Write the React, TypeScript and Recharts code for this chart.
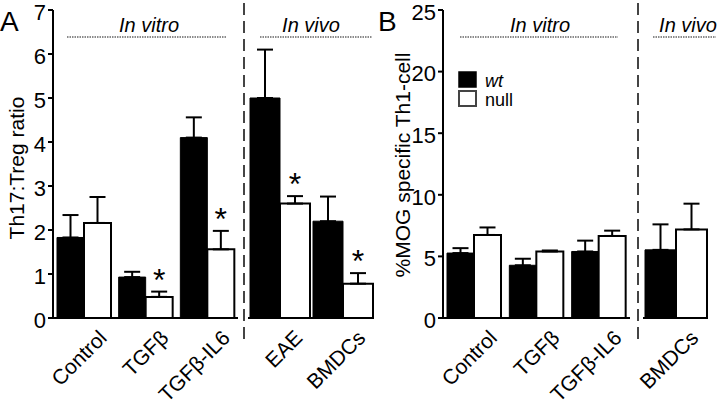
import React from 'react';
import { BarChart, Bar, XAxis, YAxis, ErrorBar, LabelList } from 'recharts';

// Panel A – Th17:Treg ratio
const vitroCats = ['Control', 'TGFβ', 'TGFβ-IL6'];
const aVitroWt = [1.83, 0.93, 4.1];
const aVitroWtErr = [0.51, 0.12, 0.46];
const aVitroNull = [2.16, 0.48, 1.56];
const aVitroNullErr = [0.59, 0.12, 0.42];
const aVitroSig = [false, true, true];

const aVivoCats = ['EAE', 'BMDCs'];
const aVivoWt = [5.0, 2.2];
const aVivoWtErr = [1.1, 0.56];
const aVivoNull = [2.6, 0.78];
const aVivoNullErr = [0.17, 0.24];
const aVivoSig = [true, true];

// Panel B – % MOG specific Th1 cells
const bVitroWt = [5.27, 4.28, 5.4];
const bVitroWtErr = [0.4, 0.53, 0.88];
const bVitroNull = [6.74, 5.4, 6.66];
const bVitroNullErr = [0.61, 0.08, 0.43];

const bVivoCats = ['BMDCs'];
const bVivoWt = [5.53];
const bVivoWtErr = [2.07];
const bVivoNull = [7.19];
const bVivoNullErr = [2.09];

const aTicks = [0, 1, 2, 3, 4, 5, 6, 7];
const bTicks = [0, 5, 10, 15, 20, 25];

const FONT = '"Liberation Sans", Arial, sans-serif';
const W = 720;
const H = 405;

const build = (cats: string[], wt: number[], wtErr: number[], nul: number[], nulErr: number[], sig?: boolean[]) =>
  cats.map((c, i) => ({
    name: c,
    wt: wt[i],
    wtErr: [0, wtErr[i]],
    nul: nul[i],
    nulErr: [0, nulErr[i]],
    sig: sig ? sig[i] : false,
  }));

const RotTick = ({ x, y, payload }: any) => (
  <text
    x={x + 15}
    y={y + 4}
    transform={`rotate(-45, ${x + 15}, ${y + 4})`}
    textAnchor="end"
    fontSize={21}
    fontFamily={FONT}
    fill="#000"
    dy={13}
  >
    {payload.value}
  </text>
);

function makeStar(rows: any[]) {
  return (props: any) => {
    const { x, y, width, height, index } = props;
    const row = rows[index];
    if (!row || !row.sig) return null;
    const pxPerUnit = height / row.nul;
    const top = y - row.nulErr[1] * pxPerUnit;
    return (
      <text x={x + width / 2} y={top - 1} textAnchor="middle" fontSize={32} fontFamily={FONT} fill="#000">
        *
      </text>
    );
  };
}

interface PanelProps {
  rows: any[];
  yWidth: number;
  max: number;
  ticks: number[];
  showY: boolean;
  margin: { left: number; right: number };
  gap: number;
}

// every panel is drawn on a full-size canvas; margins place its plot area
function Panel({ rows, yWidth, max, ticks, showY, margin, gap }: PanelProps) {
  return (
    <div style={{ position: 'absolute', left: 0, top: 0 }}>
      <BarChart
        width={W}
        height={H}
        data={rows}
        margin={{ top: 10, bottom: 0, left: margin.left, right: margin.right }}
        barCategoryGap={gap}
        barGap={0}
      >
        <XAxis
          dataKey="name"
          height={87}
          interval={0}
          axisLine={{ stroke: '#000', strokeWidth: 2 }}
          tickLine={false}
          tick={<RotTick />}
        />
        <YAxis
          hide={!showY}
          width={yWidth}
          domain={[0, max]}
          ticks={ticks}
          interval={0}
          axisLine={{ stroke: '#000', strokeWidth: 2 }}
          tickLine={{ stroke: '#000', strokeWidth: 2 }}
          tickSize={5}
          tick={{ fill: '#000', fontSize: 22, fontFamily: FONT, dy: 2 }}
        />
        <Bar dataKey="wt" fill="#000" stroke="#000" strokeWidth={1} isAnimationActive={false}>
          <ErrorBar dataKey="wtErr" width={8} stroke="#000" strokeWidth={2} direction="y" />
        </Bar>
        <Bar dataKey="nul" fill="#fff" stroke="#000" strokeWidth={2} isAnimationActive={false}>
          <ErrorBar dataKey="nulErr" width={8} stroke="#000" strokeWidth={2} direction="y" />
          <LabelList dataKey="nul" content={makeStar(rows)} />
        </Bar>
      </BarChart>
    </div>
  );
}

export default function App() {
  const aVitro = build(vitroCats, aVitroWt, aVitroWtErr, aVitroNull, aVitroNullErr, aVitroSig);
  const aVivo = build(aVivoCats, aVivoWt, aVivoWtErr, aVivoNull, aVivoNullErr, aVivoSig);
  const bVitro = build(vitroCats, bVitroWt, bVitroWtErr, bVitroNull, bVitroNullErr);
  const bVivo = build(bVivoCats, bVivoWt, bVivoWtErr, bVivoNull, bVivoNullErr);

  return (
    <div style={{ position: 'absolute', left: 0, top: 0, width: W, height: H, background: '#fff', overflow: 'hidden', fontFamily: FONT }}>
      <Panel rows={aVitro} yWidth={53} max={7} ticks={aTicks} showY margin={{ left: 0, right: 482 }} gap={4} />
      <Panel rows={aVivo} yWidth={0} max={7} ticks={aTicks} showY={false} margin={{ left: 248, right: 346 }} gap={2} />
      <Panel rows={bVitro} yWidth={53} max={25} ticks={bTicks} showY margin={{ left: 390, right: 90 }} gap={4} />
      <Panel rows={bVivo} yWidth={0} max={25} ticks={bTicks} showY={false} margin={{ left: 643, right: 12 }} gap={2} />

      <svg width={W} height={H} style={{ position: 'absolute', left: 0, top: 0, pointerEvents: 'none' }}>
        <g fontFamily={FONT} fill="#000">
          <text x={0} y={31} fontSize={28}>A</text>
          <text x={378} y={31} fontSize={28}>B</text>

          <text transform="translate(24,168) rotate(-90)" textAnchor="middle" fontSize={21}>Th17:Treg ratio</text>
          <text transform="translate(410,165) rotate(-90)" textAnchor="middle" fontSize={21}>%MOG specific Th1-cell</text>

          <text x={149} y={32} textAnchor="middle" fontSize={20} fontStyle="italic">In vitro</text>
          <text x={311} y={32} textAnchor="middle" fontSize={20} fontStyle="italic">In vivo</text>
          <text x={540} y={32} textAnchor="middle" fontSize={20} fontStyle="italic">In vitro</text>
          <text x={688} y={32} textAnchor="middle" fontSize={20} fontStyle="italic">In vivo</text>

          <text x={485} y={87} fontSize={18} fontStyle="italic">wt</text>
          <text x={485} y={106} fontSize={18}>null</text>
        </g>
        <g stroke="#666" strokeWidth={1.5} strokeDasharray="1.5 1">
          <line x1={67} x2={226} y1={37} y2={37} />
          <line x1={260} x2={372} y1={37} y2={37} />
          <line x1={460} x2={618} y1={37} y2={37} />
          <line x1={653} x2={716} y1={37} y2={37} />
        </g>
        <g stroke="#444" strokeWidth={2} strokeDasharray="12 6">
          <line x1={244} x2={244} y1={3} y2={342} />
          <line x1={638} x2={638} y1={3} y2={342} />
        </g>
        <rect x={459} y={72} width={17} height={15} fill="#000" stroke="#000" strokeWidth={1.5} />
        <rect x={459} y={91} width={17} height={15} fill="#fff" stroke="#444" strokeWidth={2} />
      </svg>
    </div>
  );
}
